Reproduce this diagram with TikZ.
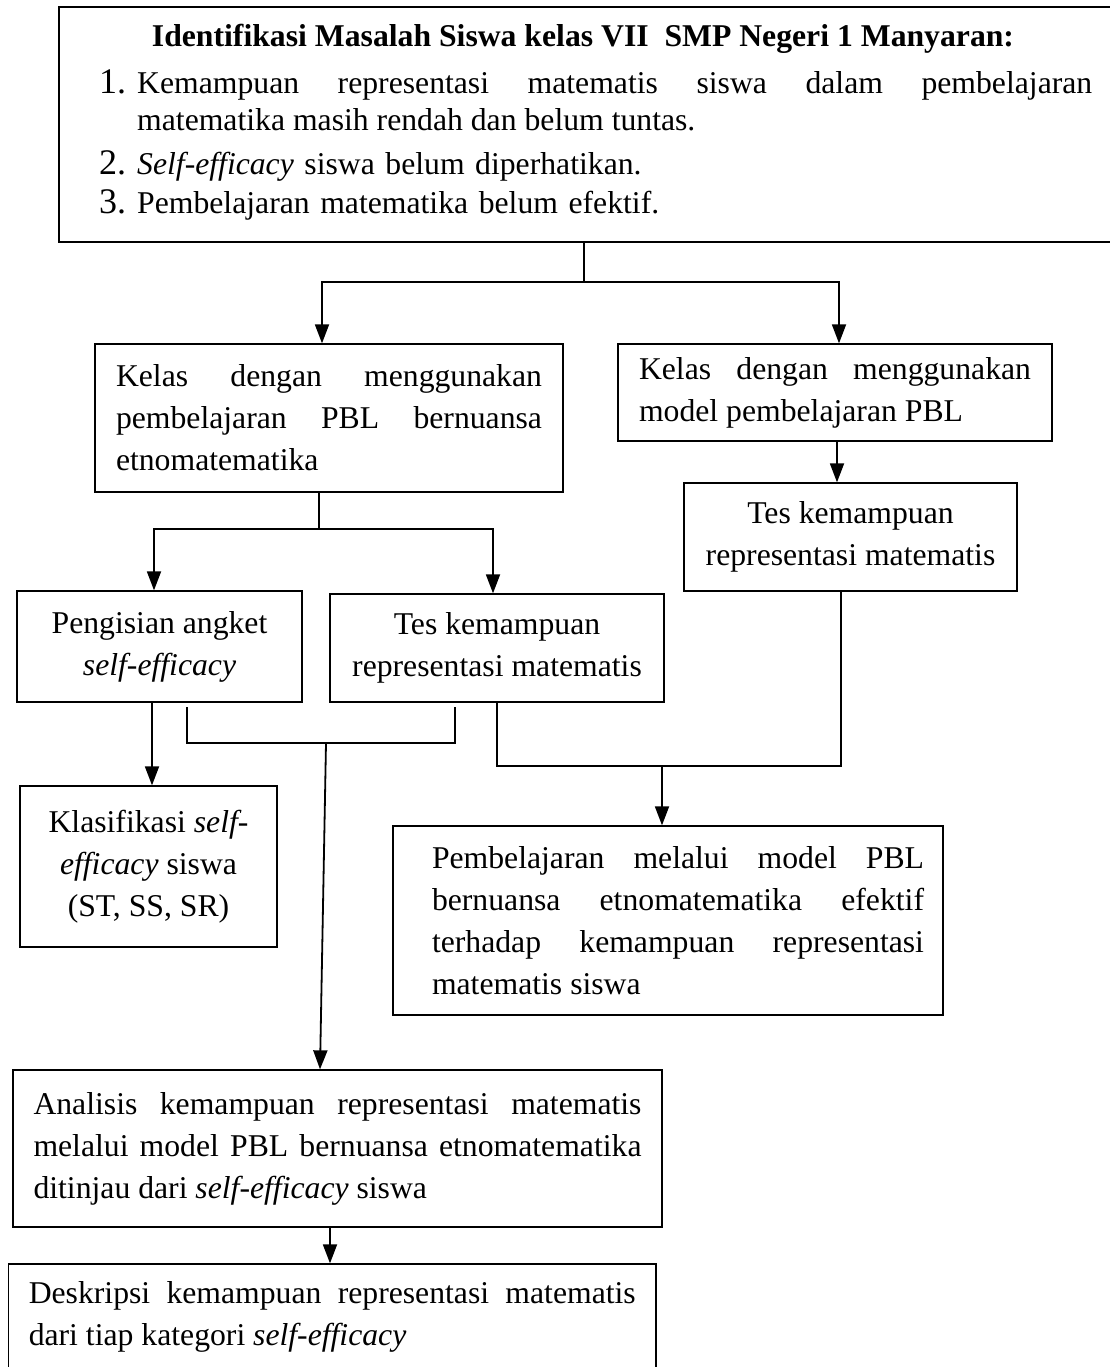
\documentclass[tikz,border=0pt]{standalone}
\usepackage{fontspec}
\setmainfont{Liberation Serif}
\usetikzlibrary{arrows.meta}
\newcommand\bodyfont{\fontsize{31.7pt}{42pt}\selectfont}
\newcommand\itemfont{\fontsize{31.7pt}{37pt}\selectfont}
\newcommand\numfont{\fontsize{36pt}{37pt}\selectfont}
\begin{document}
\begin{tikzpicture}[x=1pt,y=-1pt,
  box/.style={draw, line width=1.3pt, inner sep=0pt, font=\bodyfont},
  con/.style={line width=1.8pt},
  arr/.style={line width=1.8pt, -{Triangle[length=19pt,width=14pt]}}]
\useasboundingbox (0,0) rectangle (1110,1367);
\clip (0,0) rectangle (1110,1367);
\tolerance=10000 \hbadness=10000

% top box
\node[box, minimum width=1071pt, minimum height=235pt] (top) at (594.5,124.5) {};
\node[font=\bodyfont\bfseries, anchor=base, inner sep=0pt] (title) at (583,47)
  {Identifikasi Masalah Siswa kelas VII\ \ SMP Negeri 1 Manyaran:};
\node[font=\itemfont, anchor=base west, inner sep=0pt, text width=993pt, align=justify] (item1) at (99,94)
  {\hangindent=38pt\hangafter=1\noindent\makebox[38pt][l]{\numfont 1.}Kemampuan representasi matematis siswa dalam pembelajaran\linebreak matematika masih rendah dan belum tuntas.\par};
\node[font=\itemfont, anchor=base west, inner sep=0pt, text width=993pt, align=left] (item2) at (99,175)
  {\makebox[38pt][l]{\numfont 2.}\textit{Self-efficacy} siswa belum diperhatikan.};
\node[font=\itemfont, anchor=base west, inner sep=0pt, text width=993pt, align=left] (item3) at (99,214)
  {\makebox[38pt][l]{\numfont 3.}Pembelajaran matematika belum efektif.};

% second row
\node[box, minimum width=468pt, minimum height=148pt, text width=426pt, align=justify] (kelas1) at (329,418)
  {Kelas dengan menggunakan\linebreak pembelajaran PBL bernuansa\linebreak etnomatematika};
\node[box, minimum width=434pt, minimum height=97pt, text width=392pt, align=justify] (kelas2) at (835,392.5)
  {Kelas dengan menggunakan\linebreak model pembelajaran PBL};
\node[box, minimum width=333pt, minimum height=108pt, align=center] (tes2) at (850.5,537)
  {Tes kemampuan\\representasi matematis};

% third row
\node[box, minimum width=285pt, minimum height=111pt, align=center] (peng) at (159.5,646.5)
  {Pengisian angket\\\textit{self-efficacy}};
\node[box, minimum width=334pt, minimum height=108pt, align=center] (tes1) at (497,648)
  {Tes kemampuan\\representasi matematis};

% fourth row
\node[box, minimum width=257pt, minimum height=161pt, align=center] (klas) at (148.5,866.5)
  {Klasifikasi \textit{self-}\\\textit{efficacy} siswa\\(ST, SS, SR)};
\node[box, minimum width=550pt, minimum height=189pt, text width=512pt, align=justify] (pemb) at (668,920.5)
  {\leftskip=20pt Pembelajaran melalui model PBL\linebreak bernuansa etnomatematika efektif\linebreak terhadap kemampuan representasi\linebreak matematis siswa\par};

% bottom
\node[box, minimum width=649pt, minimum height=157pt, text width=608pt, align=justify] (anal) at (337.5,1148.5)
  {Analisis kemampuan representasi matematis\linebreak melalui model PBL bernuansa etnomatematika\linebreak ditinjau dari \textit{self-efficacy} siswa};
\node[box, minimum width=647.5pt, minimum height=105pt, text width=607pt, align=justify] (desk) at (332.25,1316.5)
  {Deskripsi kemampuan representasi matematis\linebreak dari tiap kategori \textit{self-efficacy}};

% connectors
\coordinate (j1) at (584,282);
\draw[con] (top.south -| j1) -- (j1);
\draw[arr] (j1) -| ([xshift=-7pt]kelas1.north);
\draw[arr] (j1) -| ([xshift=4pt]kelas2.north);
\draw[arr] ([xshift=2pt]kelas2.south) -- ([xshift=2pt]kelas2.south |- tes2.north);

\coordinate (j2) at (319,529);
\draw[con] (kelas1.south -| j2) -- (j2);
\draw[arr] (j2) -| ([xshift=-5.5pt]peng.north);
\draw[arr] (j2) -| ([xshift=-4pt]tes1.north);

\draw[arr] ([xshift=-7.5pt]peng.south) -- ([xshift=-7.5pt]peng.south |- klas.north);

\coordinate (u1) at (187,707);
\coordinate (u2) at (455,707);
\coordinate (j4) at (326,743);
\draw[con] (u1) |- (j4) -| (u2);
\draw[arr] (j4) -- ([xshift=-17.5pt]anal.north);

\coordinate (j3) at (662,766);
\draw[con] (tes1.south) |- (j3) -| ([xshift=-9.5pt]tes2.south);
\draw[arr] (j3) -- (j3 |- pemb.north);

\draw[arr] ([xshift=-7.5pt]anal.south) -- ([xshift=-7.5pt]anal.south |- desk.north);
\end{tikzpicture}
\end{document}
